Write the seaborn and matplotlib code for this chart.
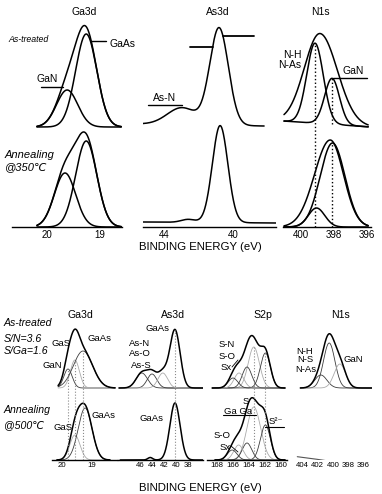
import numpy as np
import pandas as pd
import seaborn as sns
import matplotlib
matplotlib.use("Agg")
import matplotlib.pyplot as plt
from matplotlib.lines import Line2D

# ======================= DATA =======================
# ---- upper figure: N-treated GaAs, as-treated / annealed at 350 C ----
ticks_top_ga = [20, 19]
ticks_top_as = [44, 40]
ticks_top_n = [400, 398, 396]

# Ga3d components: GaN, GaAs  (centre eV, height a.u., sigma eV)
t_ga_a_c = [19.62, 19.26]
t_ga_a_h = [37, 93]
t_ga_a_s = [0.20, 0.20]
t_ga_b_c = [19.66, 19.26]
t_ga_b_h = [54, 86]
t_ga_b_s = [0.20, 0.20]
t_ga_range = [20.19, 18.60]

# As3d raw spectra: As-N, GaAs + linear background
t_as_a_c = [42.96, 40.81]
t_as_a_h = [17, 97]
t_as_a_s = [0.85, 0.54]
t_as_a_bg_e = [45.22, 38.2]
t_as_a_bg = [3, 1]
t_as_a_range = [45.22, 38.2]
t_as_b_c = [42.6, 40.75]
t_as_b_h = [3, 97]
t_as_b_s = [0.4, 0.45]
t_as_b_bg_e = [45.22, 37.5]
t_as_b_bg = [5, 4]
t_as_b_range = [45.22, 37.5]

# N1s: N-H/N-As, GaN components + envelope (centre, height, sigma-left, sigma-right)
t_n_a_c = [399.12, 398.09]
t_n_a_h = [80, 46]
t_n_a_s = [0.50, 0.45]
t_n_a_env = [398.82, 90, 0.95, 1.05]
t_n_a_bg_e = [401.06, 395.73]
t_n_a_bg = [6, 0]
t_n_b_c = [399.03, 398.06]
t_n_b_h = [19, 84]
t_n_b_s = [0.50, 0.75]
t_n_b_env = [398.20, 87, 0.95, 0.80]
t_n_range = [401.0, 395.9]

# ---- lower figure: (NH4)2S treated, as-treated / annealed at 500 C ----
ticks_b_ga = [20, 19]
ticks_b_as = [46, 44, 42, 40, 38]
ticks_b_s = [168, 166, 164, 162, 160]
ticks_b_n = [404, 402, 400, 398, 396]

# Ga3d: GaN, GaS, GaAs
b_ga_a_c = [19.80, 19.57, 19.30]
b_ga_a_h = [19, 28, 37]
b_ga_a_s = [0.14, 0.15, 0.32]
b_ga_a_tone = ["dark", "light", "dark"]
b_ga_a_range = [20.13, 18.23]
# annealed: GaS, GaAs
b_ga_b_c = [19.57, 19.23]
b_ga_b_h = [25, 52]
b_ga_b_s = [0.17, 0.23]
b_ga_b_tone = ["light", "dark"]
b_ga_b_range = [20.17, 18.40]

# As3d: As-N, As-O, As-S, GaAs
b_as_a_c = [45.7, 44.0, 42.2, 40.17]
b_as_a_h = [15, 14, 15, 58]
b_as_a_s = [0.95, 0.8, 0.8, 0.85]
b_as_a_tone = ["dark", "dark", "light", None]
b_as_a_range = [49.5, 35.5]
# annealed: small bump, GaAs
b_as_b_c = [44.3, 40.17]
b_as_b_h = [2.5, 57]
b_as_b_s = [0.4, 0.85]
b_as_b_tone = [None, None]
b_as_b_range = [49.3, 35.5]

# S2p: S-Ga-Ga, S2-, Sx, S-O, S-N
b_s_a_c = [163.4, 161.95, 164.25, 165.25, 166.0]
b_s_a_h = [41, 35, 21, 15, 10]
b_s_a_s = [0.70, 0.62, 0.60, 0.60, 0.60]
b_s_a_tone = ["light", "dark", "dark", "light", "dark"]
b_s_a_range = [168.6, 159.5]
b_s_b_c = [163.4, 161.95, 164.25, 165.3, 166.1]
b_s_b_h = [53, 35, 17, 15, 10]
b_s_b_s = [0.85, 0.62, 0.60, 0.60, 0.60]
b_s_b_tone = ["light", "dark", "dark", "light", "dark"]
b_s_b_range = [168.25, 159.5]

# N1s: N-H/N-S, N-As, GaN
b_n_a_c = [400.5, 401.6, 399.1]
b_n_a_h = [45, 13, 24]
b_n_a_s = [0.75, 0.80, 0.75]
b_n_a_tone = ["dark", "dark", "light"]
b_n_a_range = [404.3, 394.9]
# annealed: flat trace
b_n_b_e = [404.7, 402.1, 400.0, 397.8, 395.1]
b_n_b_v = [3.3, 0.7, -1.7, -2.7, -2.7]

# ============================ STYLE / LAYOUT ============================
sns.set_theme(style="white")
plt.rcParams["font.family"] = ["Liberation Sans", "DejaVu Sans"]

TONE = {"dark": "#3c3c3c", "light": "#ababab"}
W, H = 382, 494
fig = plt.figure(figsize=(W / 100, H / 100), dpi=100)
fig.patch.set_facecolor("white")


def px_axes(x0, y0, x1, y1, xlim, ticks, tsize, pad, spine=True):
    ax = fig.add_axes([x0 / W, 1 - y1 / H, (x1 - x0) / W, (y1 - y0) / H])
    ax.set_xlim(*xlim)
    ax.set_ylim(0, y1 - y0)
    for s in ["top", "left", "right"]:
        ax.spines[s].set_visible(False)
    ax.spines["bottom"].set_visible(spine)
    ax.spines["bottom"].set_color("black")
    ax.spines["bottom"].set_linewidth(1.0)
    ax.set_yticks([])
    ax.set_xticks(ticks)
    ax.set_xticklabels([str(t) for t in ticks])
    ax.tick_params(axis="x", length=0, pad=pad, labelsize=tsize, colors="black")
    ax.patch.set_alpha(0)
    return ax


def ftext(x, y, s, size=7, ha="center", **kw):
    fig.text(x / W, 1 - y / H, s, fontsize=size, ha=ha, va="center", color="black", **kw)


def fline(x0, y0, x1, y1, lw=1.0, color="black"):
    fig.add_artist(Line2D([x0 / W, x1 / W], [1 - y0 / H, 1 - y1 / H], lw=lw, color=color))


def gauss(x, c, h, s):
    return h * np.exp(-0.5 * ((x - c) / s) ** 2)


def split_gauss(x, c, h, sl, sr):
    s = np.where(x > c, sl, sr)
    return h * np.exp(-0.5 * ((x - c) / s) ** 2)


def line(ax, x, y, color, lw, ls="-"):
    df = pd.DataFrame({"eV": x, "I": y})
    sns.lineplot(data=df, x="eV", y="I", ax=ax, color=color, lw=lw, ls=ls,
                 estimator=None, sort=False, legend=False)
    ax.set_xlabel("")
    ax.set_ylabel("")


def spectrum(ax, erange, cs, hs, ss, tones, offset, env=None, bg_e=None, bg_v=None,
             env_lw=1.1, comp_lw=0.6, comp_default="black"):
    x = np.linspace(erange[0], erange[1], 500)
    if bg_e is not None:
        order = np.argsort(bg_e)
        bg = np.interp(x, np.array(bg_e)[order], np.array(bg_v)[order])
    else:
        bg = np.zeros_like(x)
    comps = [gauss(x, c, h, s) for c, h, s in zip(cs, hs, ss)]
    total = split_gauss(x, *env) if env is not None else np.sum(comps, axis=0)
    for comp, tone in zip(comps, tones):
        if tone is not None:
            line(ax, x, offset + bg + comp, TONE.get(tone, comp_default), comp_lw)
    line(ax, x, offset + bg + total, "black", env_lw)
    return x, bg


# ----------------------------- upper figure -----------------------------
OFF_T = 100
ax1 = px_axes(12, 15, 122, 227, (20.66, 18.585), ticks_top_ga, 7, 2)
spectrum(ax1, t_ga_range, t_ga_a_c, t_ga_a_h, t_ga_a_s, ["k", "k"], OFF_T,
         env_lw=1.1, comp_lw=1.1)
spectrum(ax1, t_ga_range, t_ga_b_c, t_ga_b_h, t_ga_b_s, ["k", "k"], 0,
         env_lw=1.1, comp_lw=1.1)

ax2 = px_axes(143, 15, 276, 227, (45.22, 37.51), ticks_top_as, 7, 2)
spectrum(ax2, t_as_a_range, t_as_a_c, t_as_a_h, t_as_a_s, [None, None], OFF_T,
         bg_e=t_as_a_bg_e, bg_v=t_as_a_bg, env_lw=1.1)
spectrum(ax2, t_as_b_range, t_as_b_c, t_as_b_h, t_as_b_s, [None, None], 0,
         bg_e=t_as_b_bg_e, bg_v=t_as_b_bg, env_lw=1.1)

ax3 = px_axes(283, 15, 371, 227, (401.06, 395.73), ticks_top_n, 7, 2)
spectrum(ax3, t_n_range, t_n_a_c, t_n_a_h, t_n_a_s, ["k", "k"], OFF_T, env=t_n_a_env,
         bg_e=t_n_a_bg_e, bg_v=t_n_a_bg, env_lw=1.1, comp_lw=1.1)
spectrum(ax3, t_n_range, t_n_b_c, t_n_b_h, t_n_b_s, ["k", "k"], 0, env=t_n_b_env,
         env_lw=1.1, comp_lw=1.1)
bg_nh = np.interp(t_n_a_c[0], t_n_a_bg_e[::-1], t_n_a_bg[::-1])
bg_gan = np.interp(t_n_a_c[1], t_n_a_bg_e[::-1], t_n_a_bg[::-1])
ax3.vlines(t_n_a_c[0], 0, OFF_T + bg_nh + t_n_a_h[0], colors="black", linestyles=":", lw=1.0)
ax3.vlines(t_n_a_c[1], OFF_T + bg_gan, OFF_T + bg_gan + t_n_a_h[1], colors="black",
           linestyles=":", lw=1.0)
ax3.vlines(t_n_a_c[1], 0, t_n_b_h[1], colors="black", linestyles=":", lw=1.0)

ftext(84, 12, "Ga3d", 7.5)
ftext(218, 12, "As3d", 7.5)
ftext(320, 12, "N1s", 7.5)
ftext(8, 40, "As-treated", 6.3, ha="left", style="italic")
ftext(5, 155, "Annealing", 8, ha="left", style="italic")
ftext(5, 167, "@350\u2103", 8, ha="left", style="italic")
ftext(123, 44, "GaAs", 7.5)
fline(91, 41, 106, 41)
ftext(47, 79, "GaN", 7.5)
fline(41, 87, 63, 87)
ftext(165, 98, "As-N", 7.5)
fline(148, 105, 182, 105)
fline(190, 47, 213, 47, lw=1.3)
fline(223, 36, 254, 36, lw=1.3)
ftext(292, 55, "N-H", 7.5)
ftext(290, 65, "N-As", 7.5)
ftext(353, 71, "GaN", 7.5)
fline(333, 78, 367, 78)
ftext(200, 247, "BINDING ENERGY (eV)", 8.2)

# ----------------------------- lower figure -----------------------------
OFF_B = 72
TS = 5.6
bx1 = px_axes(52, 320, 117, 460, (20.333, 18.167), ticks_b_ga, TS, 1.5)
spectrum(bx1, b_ga_a_range, b_ga_a_c, b_ga_a_h, b_ga_a_s, b_ga_a_tone, OFF_B)
spectrum(bx1, b_ga_b_range, b_ga_b_c, b_ga_b_h, b_ga_b_s, b_ga_b_tone, 0)
bx1.vlines(b_ga_a_c, 0, [OFF_B + h for h in b_ga_a_h], colors="#8a8a8a",
           linestyles=":", lw=0.8)

bx2 = px_axes(118, 320, 203, 460, (49.67, 35.5), ticks_b_as, TS, 1.5)
spectrum(bx2, b_as_a_range, b_as_a_c, b_as_a_h, b_as_a_s, b_as_a_tone, OFF_B)
spectrum(bx2, b_as_b_range, b_as_b_c, b_as_b_h, b_as_b_s, b_as_b_tone, 0)
bx2.vlines(b_as_a_c[3], 0, OFF_B + b_as_a_h[3], colors="#8a8a8a", linestyles=":", lw=0.8)

bx3 = px_axes(207, 320, 287, 460, (169.25, 159.25), ticks_b_s, TS, 1.5)
spectrum(bx3, b_s_a_range, b_s_a_c, b_s_a_h, b_s_a_s, b_s_a_tone, OFF_B)
spectrum(bx3, b_s_b_range, b_s_b_c, b_s_b_h, b_s_b_s, b_s_b_tone, 0)
bx3.vlines(b_s_a_c[:2], 0, [OFF_B + h for h in b_s_a_h[:2]], colors="#8a8a8a",
           linestyles=":", lw=0.8)

bx4 = px_axes(295, 320, 372, 460, (405.0, 394.87), ticks_b_n, TS, 1.5, spine=False)
spectrum(bx4, b_n_a_range, b_n_a_c, b_n_a_h, b_n_a_s, b_n_a_tone, OFF_B)
line(bx4, np.array(b_n_b_e), np.array(b_n_b_v), "#555555", 0.8)

ftext(80, 315, "Ga3d", 7.6)
ftext(173, 315, "As3d", 7.6)
ftext(263, 315, "S2p", 7.6)
ftext(340, 315, "N1s", 7.6)
ftext(4, 323, "As-treated", 7.6, ha="left", style="italic")
ftext(4, 339, "S/N=3.6", 7.6, ha="left", style="italic")
ftext(4, 351, "S/Ga=1.6", 7.6, ha="left", style="italic")
ftext(4, 410, "Annealing", 7.6, ha="left", style="italic")
ftext(4, 425, "@500\u2103", 7.6, ha="left", style="italic")

ftext(61, 343, "GaS", 6.8)
ftext(100, 338, "GaAs", 6.8)
ftext(52, 365, "GaN", 6.8)
ftext(104, 415, "GaAs", 6.8)
ftext(63, 428, "GaS", 6.8)

ftext(157, 328, "GaAs", 6.8)
ftext(140, 343, "As-N", 6.8)
ftext(140, 354, "As-O", 6.8)
ftext(141, 365, "As-S", 6.8)
ftext(152, 418, "GaAs", 6.8)

ftext(227, 344, "S-N", 6.8)
ftext(227, 356, "S-O", 6.8)
ftext(226, 367, "Sx", 6.8)
fline(232, 367, 238, 360, lw=0.6)
ftext(246, 401, "S", 6.8)
ftext(238, 411, "Ga Ga", 6.8)
fline(223, 415, 256, 415, lw=0.8)
ftext(276, 421, "S\u00b2\u207b", 6.8)
fline(265, 427, 284, 427, lw=0.8)
ftext(222, 435, "S-O", 6.8)
ftext(225, 447, "Sx", 6.8)
fline(231, 446, 238, 452, lw=0.6)

ftext(305, 351, "N-H", 6.8)
ftext(305, 360, "N-S", 6.8)
ftext(306, 369, "N-As", 6.8)
ftext(353, 359, "GaN", 6.8)

ftext(200, 488, "BINDING ENERGY (eV)", 8.2)

fig.savefig("out.png", dpi=100, facecolor="white")
